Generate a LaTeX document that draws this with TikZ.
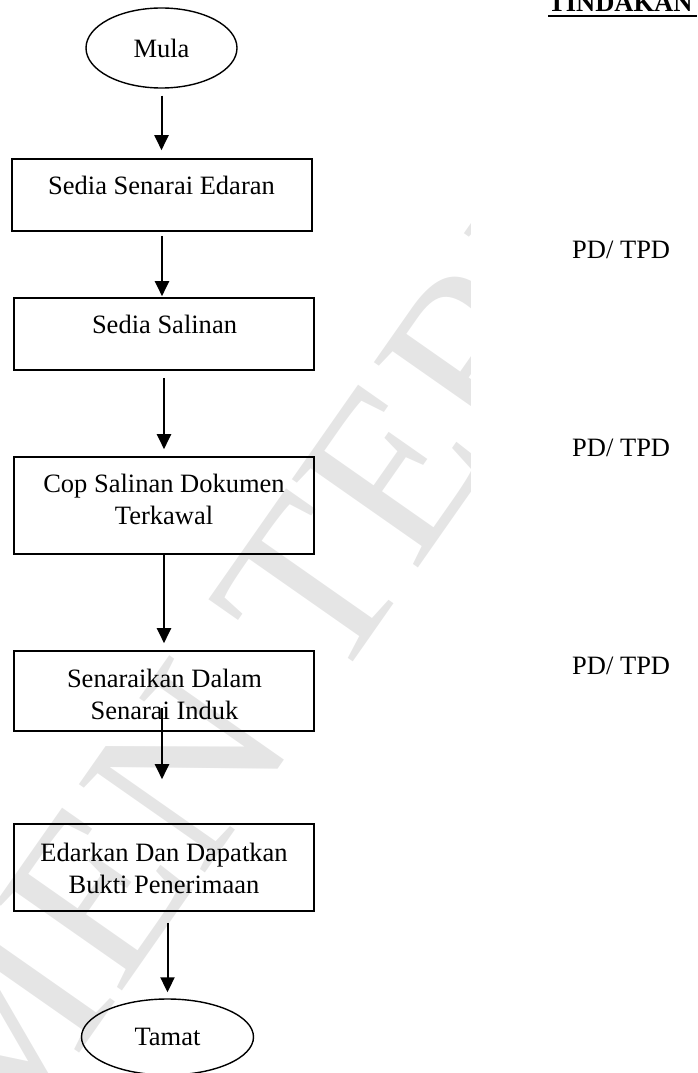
\documentclass[tikz,border=0pt]{standalone}
\usepackage{fontspec}
\setmainfont{Liberation Serif}
\usetikzlibrary{arrows.meta,shapes.geometric,calc}
\begin{document}
\begin{tikzpicture}[x=1pt,y=-1pt,
  box/.style={draw, line width=1.6pt, minimum width=300pt, inner sep=0pt},
  term/.style={draw, ellipse, line width=1.4pt, inner sep=0pt, font=\fontsize{26.5}{32}\selectfont},
  txt/.style={anchor=base, inner sep=0pt, font=\fontsize{26.5}{32}\selectfont},
  side/.style={anchor=base west, inner sep=0pt, font=\fontsize{26.5}{32}\selectfont},
  arr/.style={line width=2pt, -{Triangle[length=15pt,width=14pt]}},
  wm/.style={text=black!10, font=\fontsize{235}{235}\selectfont, rotate=55, inner sep=0pt}]
\useasboundingbox (0,0) rectangle (697,1073);
% watermark
\begin{scope}
\clip (0,0) rectangle (470,1073);
\node[wm] (wm) at (274,642) {DOKUMEN TERKAWAL};
\end{scope}
% terminals
\node[term, minimum width=151pt, minimum height=80pt] (mula) at (161.5,48) {Mula};
\node[term, minimum width=172pt, minimum height=76pt] (tamat) at (167.5,1037) {Tamat};
% boxes
\node[box, minimum height=72pt] (b1) at (162,195) {};
\node[box, minimum height=72pt] (b2) at (164,334) {};
\node[box, minimum height=97pt] (b3) at (164,505.5) {};
\node[box, minimum height=80pt] (b4) at (164,691) {};
\node[box, minimum height=87pt] (b5) at (164,867.5) {};
% box texts
\node[txt] (t1) at (161.5,194) {Sedia Senarai Edaran};
\node[txt] (t2) at (164.5,333.5) {Sedia Salinan};
\node[txt] (t3a) at (164,492.5) {Cop Salinan Dokumen};
\node[txt] (t3b) at (164,524.5) {Terkawal};
\node[txt] (t4a) at (164.5,687) {Senaraikan Dalam};
\node[txt] (t4b) at (164.5,719) {Senarai Induk};
\node[txt] (t5a) at (164,861.5) {Edarkan Dan Dapatkan};
\node[txt] (t5b) at (164,893) {Bukti Penerimaan};
% right column
\node[side, font=\bfseries\fontsize{26.5}{32}\selectfont] (tind) at (548,12) {TINDAKAN};
\draw[line width=2pt] ($(tind.base west)+(0,4.5)$) -- ($(tind.base west)+(149,4.5)$);
\node[side] (pd1) at (572,258) {PD/ TPD};
\node[side] (pd2) at (572,456) {PD/ TPD};
\node[side] (pd3) at (572,674) {PD/ TPD};
% connectors
\draw[arr] ($(mula.south)+(0,7)$) -- ($(mula.south |- b1.north)+(0,-8)$);
\draw[arr] ($(b1.south)+(0,4)$) -- ($(b1.south |- b2.north)+(0,-1)$);
\draw[arr] ($(b2.south)+(0,7)$) -- ($(b2.south |- b3.north)+(0,-7)$);
\draw[arr] (b3.south) -- ($(b3.south |- b4.north)+(0,-7)$);
\draw[arr] ($(b4.south)+(-2,-24)$) -- ($(b5.north)+(-2,-44)$);
\draw[arr] ($(tamat.north |- b5.south)+(0,11)$) -- ($(tamat.north)+(0,-6)$);
\end{tikzpicture}
\end{document}
